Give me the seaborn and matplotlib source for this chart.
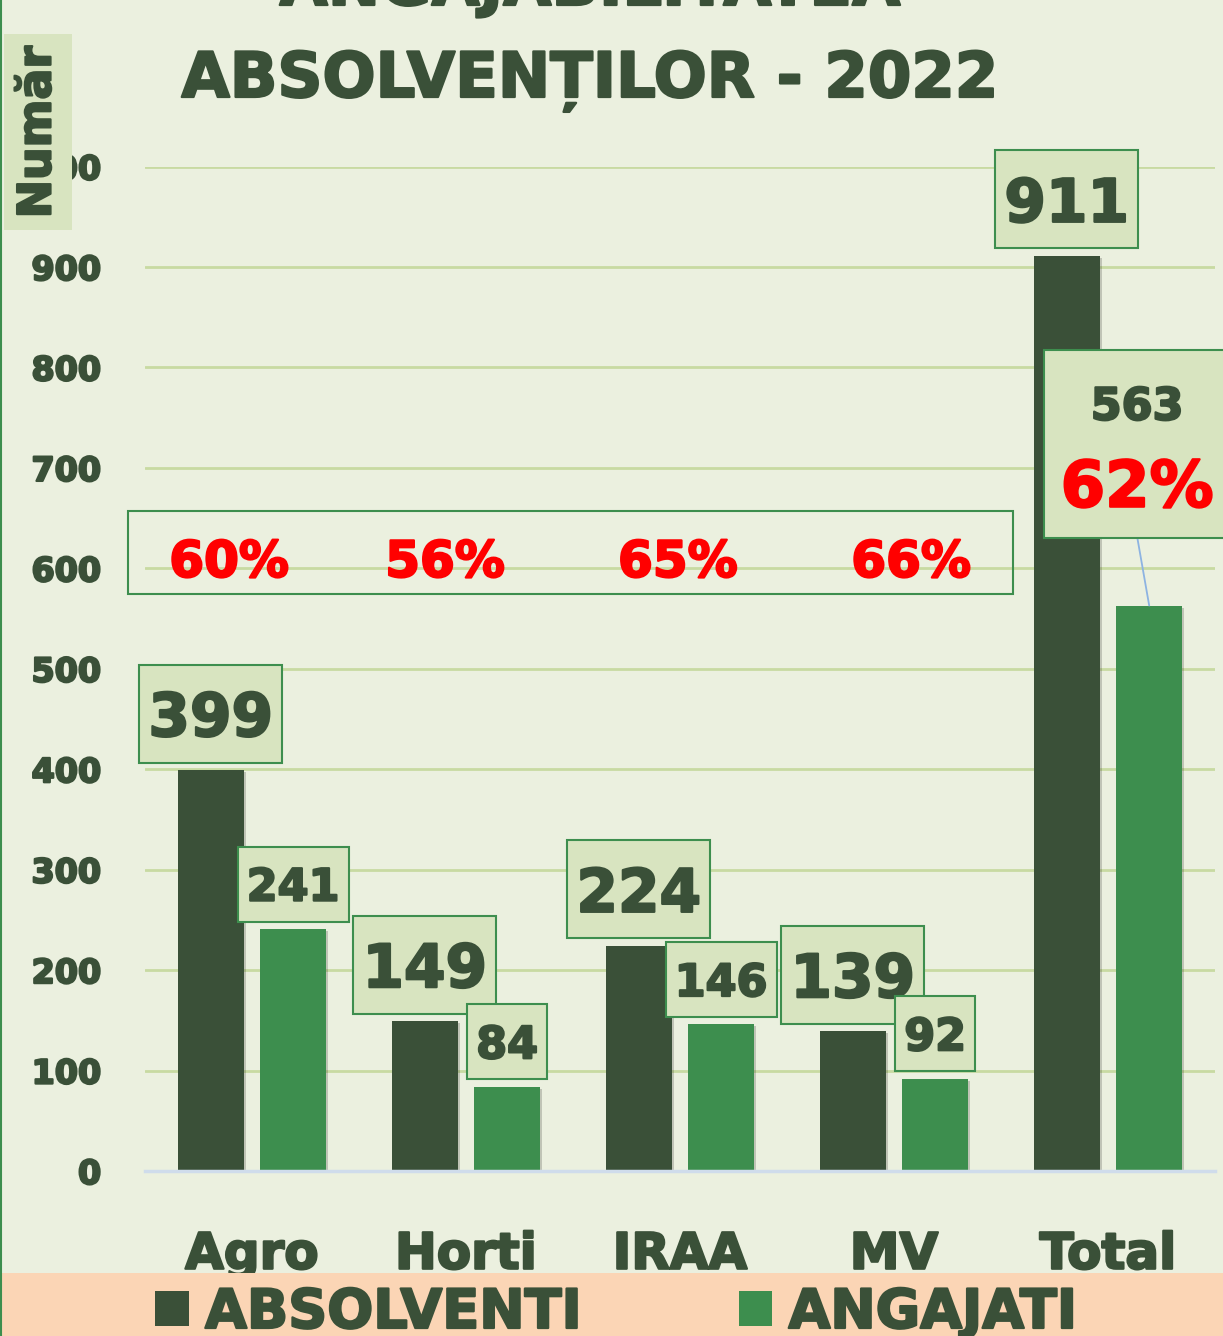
import matplotlib
matplotlib.use("Agg")
import matplotlib.pyplot as plt
import matplotlib.patheffects as pe
import pandas as pd
import seaborn as sns
from matplotlib.path import Path
from matplotlib.patches import Rectangle
from matplotlib.lines import Line2D
from matplotlib.text import Text

# ---- data -------------------------------------------------------------
categories = ["Agro", "Horti", "IRAA", "MV", "Total"]
absolventi = [399, 149, 224, 139, 911]
angajati = [241, 84, 146, 92, 563]
series_names = ["ABSOLVENTI", "ANGAJATI"]
title_lines = ["ANGAJABILITATEA", "ABSOLVENȚILOR - 2022"]
y_label = "Număr"
y_ticks = list(range(0, 1001, 100))

# ---- style ------------------------------------------------------------
DARK = "#3A5038"
GREEN = "#3D8E4E"
BG = "#EBF0DF"
LABEL_BG = "#D8E4C0"
GRID = "#C8DAA2"
RED = "#FF0000"
PEACH = "#FBD5B5"
AXIS_LINE = "#CFDCEB"
LEADER = "#8DB3E2"

W, H, DPI = 1223, 1336, 100
PX = 72 / DPI  # points per pixel

sns.set_theme(style="white")
plt.rcParams["font.family"] = ["DejaVu Sans"]

df = pd.DataFrame({
    "categorie": categories * 2,
    "serie": [series_names[0]] * len(categories) + [series_names[1]] * len(categories),
    "numar": absolventi + angajati,
})

fig = plt.figure(figsize=(W / DPI, H / DPI), dpi=DPI, facecolor=BG)
ax = fig.add_axes([145 / W, 165 / H, 1070 / W, 1004.4 / H])
ax.set_facecolor(BG)

sns.barplot(data=df, x="categorie", y="numar", hue="serie",
            palette=[DARK, GREEN], saturation=1, width=0.77, gap=0.2,
            errorbar=None, ax=ax, zorder=3, linewidth=0, edgecolor="none")

bar_shadow = [pe.SimplePatchShadow(offset=(1.5, -1.5), shadow_rgbFace="black", alpha=0.18),
              pe.Normal()]
for container in ax.containers:
    for bar in container:
        bar.set_path_effects(bar_shadow)

ax.set_ylim(0, 1000)
ax.set_xlim(-0.5, len(categories) - 0.5)
ax.set_axisbelow(True)
ax.yaxis.grid(True, color=GRID, linewidth=2)
ax.xaxis.grid(False)
for side in ("left", "right", "top"):
    ax.spines[side].set_visible(False)
ax.spines["bottom"].set_color(AXIS_LINE)
ax.spines["bottom"].set_linewidth(2.5)
ax.spines["bottom"].set_zorder(4)

ax.set_yticks(y_ticks)
ax.tick_params(axis="y", length=0, pad=31.5, labelsize=24, labelcolor=DARK)
ax.tick_params(axis="x", length=0, pad=43, labelsize=36, labelcolor=DARK)
for lab in ax.get_xticklabels() + ax.get_yticklabels():
    lab.set_fontweight("bold")
ax.set_xlabel("")
ax.set_ylabel("")

handles, labels = ax.get_legend_handles_labels()
if ax.get_legend() is not None:
    ax.get_legend().remove()


# ---- value labels in boxes --------------------------------------------
def label_box(pad_x_em, height_em):
    """Box of fixed height (in em) centred on the digits of the label."""
    def box(x0, y0, width, height, mutation_size):
        m = mutation_size
        yc = y0 + height - 0.395 * m
        left, right = x0 - pad_x_em * m, x0 + width + pad_x_em * m
        bottom, top = yc - height_em * m / 2, yc + height_em * m / 2
        return Path([(left, bottom), (right, bottom), (right, top),
                     (left, top), (left, bottom)], closed=True)
    return box


label_styles = [
    dict(size=43, pad_x=0.15, height_em=1.64),   # ABSOLVENTI
    dict(size=32, pad_x=0.2, height_em=1.69),    # ANGAJATI
]
gap_px = 7

for s_idx, container in enumerate(ax.containers):
    st = label_styles[s_idx]
    for c_idx, bar in enumerate(container):
        if s_idx == 1 and c_idx == len(categories) - 1:
            continue
        x = bar.get_x() + bar.get_width() / 2
        v = bar.get_height()
        off = gap_px * PX + (st["height_em"] / 2 - 0.365) * st["size"]
        ax.annotate(f"{v:.0f}", xy=(x, v), xytext=(0, off),
                    textcoords="offset points", ha="center", va="baseline",
                    fontsize=st["size"], fontweight="bold", color=DARK,
                    annotation_clip=False, zorder=5 + s_idx,
                    bbox=dict(boxstyle=label_box(st["pad_x"], st["height_em"]),
                              facecolor=LABEL_BG, edgecolor=GREEN, linewidth=1.5))

# percentage row for the individual specialisations
ax.add_patch(Rectangle((-0.58, 574.7), 4.135, 82.7, fill=False,
                       edgecolor=GREEN, linewidth=1.5, clip_on=False, zorder=4))
pct_nudge = [-0.107, -0.098, -0.01, 0.08]
for j in range(len(categories) - 1):
    pct = round(100 * angajati[j] / absolventi[j])
    ax.text(j + pct_nudge[j], 591.6, f"{pct}%", ha="center", va="baseline",
            fontsize=36, fontweight="bold", color=RED, zorder=5)

# callout for the total number of employed graduates
tot_bar = ax.containers[1][len(categories) - 1]
tot_x = tot_bar.get_x() + tot_bar.get_width() / 2
tot_v = tot_bar.get_height()
tot_pct = round(100 * angajati[-1] / absolventi[-1])
box_left, box_bottom = 3.70, tot_v + 67.5
ax.add_patch(Rectangle((box_left, box_bottom), 0.87, 187.2, facecolor=LABEL_BG,
                       edgecolor=GREEN, linewidth=1.5, clip_on=False, zorder=6))
ax.add_line(Line2D([4.137, tot_x], [box_bottom, tot_v], color=LEADER,
                   linewidth=1.3, zorder=5))
ax.text(4.136, tot_v + 185, f"{tot_v:.0f}", ha="center", va="baseline",
        fontsize=32, fontweight="bold", color=DARK, zorder=7, clip_on=False)
ax.text(4.136, tot_v + 98.4, f"{tot_pct}%", ha="center", va="baseline",
        fontsize=46, fontweight="bold", color=RED, zorder=7, clip_on=False)

# ---- title, axis label, legend band -----------------------------------
fig.text(590 / W, 1 - 5 / H, title_lines[0], ha="center", va="baseline",
         fontsize=45, fontweight="bold", color=DARK)
fig.text(590 / W, 1 - 97 / H, title_lines[1], ha="center", va="baseline",
         fontsize=45, fontweight="bold", color=DARK)

fig.text(38 / W, 1 - 132 / H, y_label, rotation=90, ha="center", va="center",
         fontsize=33, fontweight="bold", color=DARK,
         bbox=dict(boxstyle="square,pad=0.25", facecolor=LABEL_BG, edgecolor="none"))

fig.add_artist(Rectangle((0, 0), 1, 63 / H, transform=fig.transFigure,
                         facecolor=PEACH, edgecolor="none", zorder=1))
fig.add_artist(Line2D([1 / W, 1 / W], [0, 1], transform=fig.transFigure,
                      color=GREEN, linewidth=1.5, zorder=2))

leg = fig.legend(handles, labels, loc="center", bbox_to_anchor=(616 / W, 23 / H),
                 ncol=2, frameon=False, prop={"size": 39, "weight": "bold"},
                 labelcolor=DARK, handlelength=0.62, handleheight=0.62,
                 handletextpad=0.3, columnspacing=2.9, borderpad=0,
                 borderaxespad=0)
leg.set_zorder(5)

# heavier strokes on all lettering
for t in fig.findobj(Text):
    if t.get_text():
        t.set_path_effects([pe.withStroke(linewidth=1.6, foreground=t.get_color())])

fig.savefig("out.png", dpi=DPI, facecolor=BG)
